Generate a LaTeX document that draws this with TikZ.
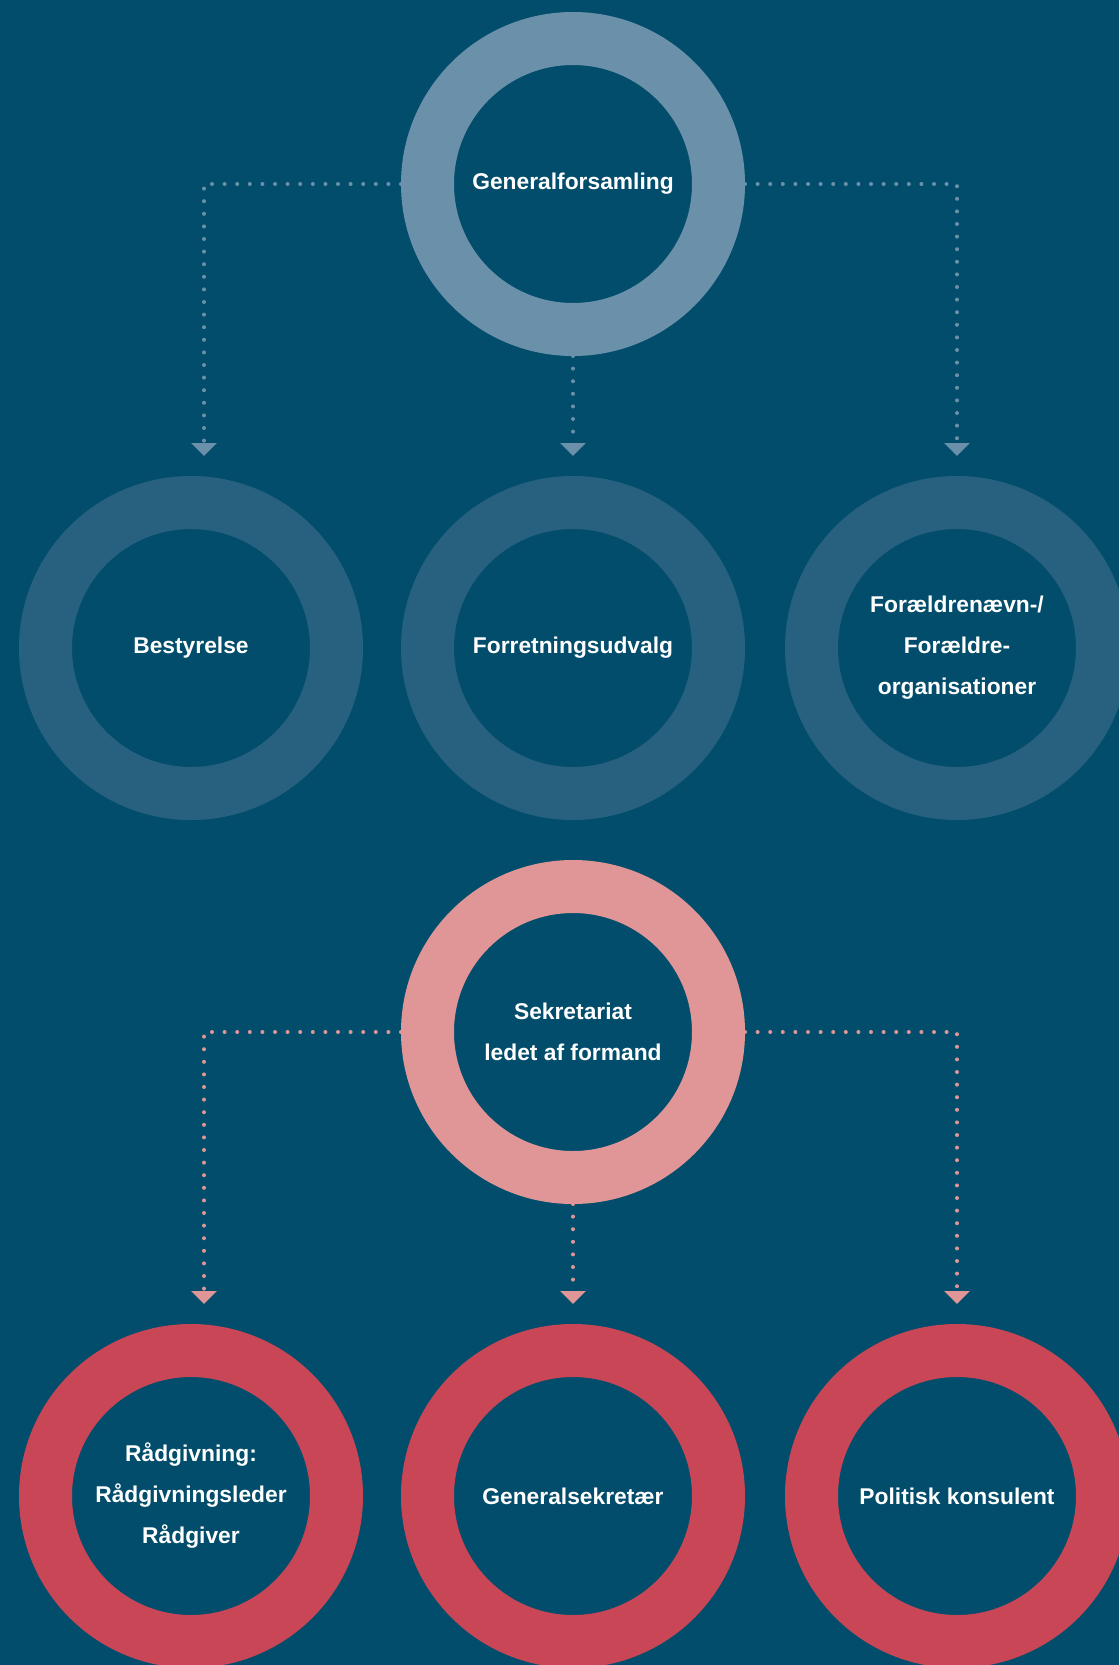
\documentclass[tikz,border=0pt]{standalone}
\usepackage{fontspec}
\setmainfont{Liberation Sans}
\usetikzlibrary{arrows.meta,positioning}
\definecolor{navy}{RGB}{2,77,107}
\definecolor{steel}{RGB}{107,145,170}
\definecolor{slate}{RGB}{40,97,128}
\definecolor{blush}{RGB}{224,150,150}
\definecolor{cherry}{RGB}{200,70,85}
\tikzset{
  ring/.style={circle,draw=#1,line width=26.5pt,minimum size=145.5pt,inner sep=0pt,
    text=white,font=\fontsize{11.4}{20.5}\selectfont\bfseries,align=center},
  ring/.default=slate,
  flow/.style={draw=#1,line width=2pt,line cap=round,dash pattern=on 0pt off 6.3pt,
    -{Triangle[width=12.5pt,length=6.5pt]}},
  flow/.default=steel,
}

\begin{document}
\begin{tikzpicture}[x=0.5pt,y=-0.5pt]
  \useasboundingbox (0,0) rectangle (1119,1665);
  \clip (0,0) rectangle (1119,1665);
  \fill[navy] (0,0) rectangle (1119,1665);

  % governing bodies
  \node[ring=steel] (gf) at (573,184) {Generalforsamling};
  \node[ring] (best) at (191,648) {Bestyrelse};
  \node[ring] (fu) at (573,648) {Forretningsudvalg};
  \node[ring] (fn) at (957,648) {Forældrenævn-/\\Forældre-\\organisationer};

  \coordinate (gfL) at (204,456);
  \coordinate (gfM) at (573,456);
  \coordinate (gfR) at (957,456);
  \draw[flow] (gf.west) -| (gfL);
  \draw[flow] (gf.south) -- (gfM);
  \draw[flow] (gf.east) -| (gfR);

  % secretariat
  \node[ring=blush] (sek) at (573,1032) {Sekretariat\\ledet af formand};
  \node[ring=cherry] (raad) at (191,1496) {Rådgivning:\\Rådgivningsleder\\Rådgiver};
  \node[ring=cherry] (gs) at (573,1496) {Generalsekretær};
  \node[ring=cherry] (pk) at (957,1496) {Politisk konsulent};

  \coordinate (sekL) at (204,1304);
  \coordinate (sekM) at (573,1304);
  \coordinate (sekR) at (957,1304);
  \draw[flow=blush] (sek.west) -| (sekL);
  \draw[flow=blush] (sek.south) -- (sekM);
  \draw[flow=blush] (sek.east) -| (sekR);
\end{tikzpicture}
\end{document}
